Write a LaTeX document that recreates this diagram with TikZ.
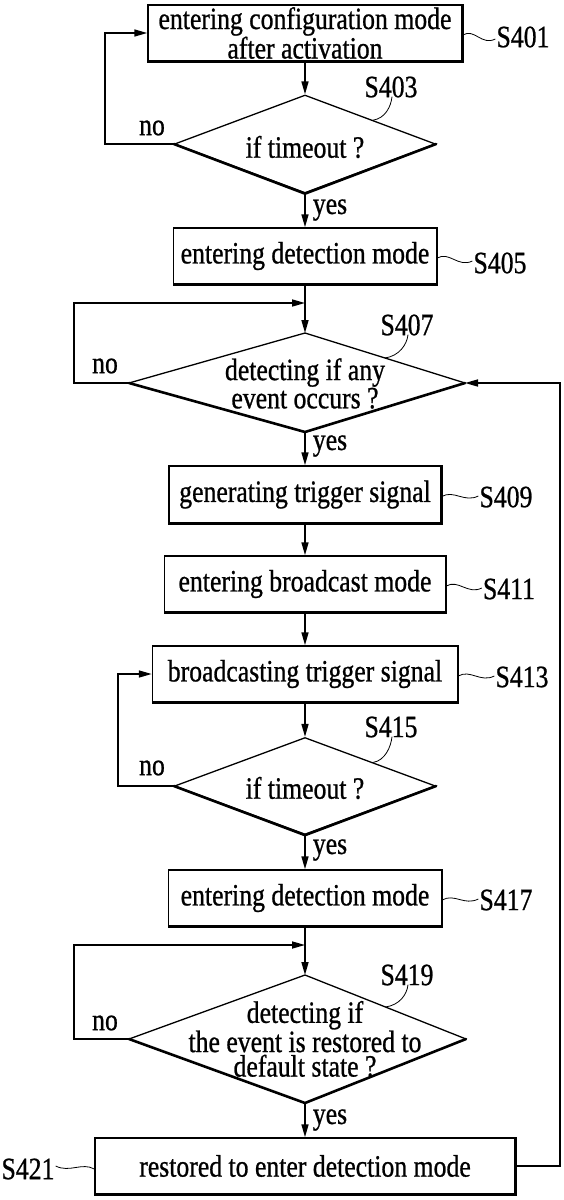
\documentclass[tikz,border=0pt]{standalone}
\usepackage{fontspec}
\setmainfont[FakeStretch=0.83,FakeBold=0.8]{Liberation Serif}
\usetikzlibrary{shapes.geometric,arrows.meta,calc}
\begin{document}
\begin{tikzpicture}[x=1pt,y=-1pt,
  every node/.style={font=\fontsize{31}{24.5}\selectfont},
  stepbox/.style={draw,rectangle,line width=1.5pt,inner sep=0pt,align=center},
  decision/.style={draw,diamond,line width=1.3pt,inner sep=0pt},
  light/.style={line width=1.3pt,line join=round},
  heavy/.style={line width=2.6pt,line cap=round,line join=round},
  arr/.style={line width=1.6pt,-{Triangle[length=13pt,width=7pt]}},
  squig/.style={line width=0.8pt},
  txt/.style={inner sep=0pt,align=center}]
\useasboundingbox (0,0) rectangle (564,1200);

% boxes
\node[stepbox,minimum width=314,minimum height=56] (b1) at (305,33) {entering configuration mode\\after activation};
\node[stepbox,minimum width=263,minimum height=56] (b5) at (305,256) {entering detection mode};
\node[stepbox,minimum width=272,minimum height=57] (b9) at (305,494.5) {generating trigger signal};
\node[stepbox,minimum width=281,minimum height=56] (b11) at (305,584) {entering broadcast mode};
\node[stepbox,minimum width=305,minimum height=56] (b13) at (305,674) {broadcasting trigger signal};
\node[stepbox,minimum width=273,minimum height=56] (b17) at (305,898) {entering detection mode};
\node[stepbox,minimum width=420,minimum height=56] (b21) at (305,1166) {restored to enter detection mode};

% symmetric decisions
\node[decision,minimum width=261,minimum height=98] (d3) at (305,144) {};
\node[txt] (t3) at (305,147) {if timeout ?};
\node[decision,minimum width=261,minimum height=97] (d15) at (305,786) {};
\node[txt] (t15) at (305,788) {if timeout ?};

% wide decisions (left half wider than right half)
\coordinate (d7n) at (305,333);
\coordinate (d7s) at (305,432);
\coordinate (d7w) at (129,383);
\coordinate (d7e) at (465,383);
\draw[light] (d7w) -- (d7n) -- (d7e);
\node[txt] (t7) at (305,383.5) {detecting if any\\event occurs ?};

\coordinate (d19n) at (305,975);
\coordinate (d19s) at (305,1103);
\coordinate (d19w) at (129,1039);
\coordinate (d19e) at (466,1039);
\draw[light] (d19w) -- (d19n) -- (d19e);
\node[txt] (t19) at (305,1039) {detecting if\\the event is restored to\\default state ?};

% heavier lower/right edges
\foreach \b in {b1,b5,b9,b11,b13,b17,b21}
  \draw[line width=2.4pt] (\b.north east) -- (\b.south east) -- (\b.south west);
\foreach \d in {d3,d15}
  \draw[heavy] (\d.west) -- (\d.south) -- (\d.east);
\draw[heavy] (d7w) -- (d7s) -- (d7e);
\draw[heavy] (d19w) -- (d19s) -- (d19e);

% step labels
\node[txt] (s401) at (523,37) {S401};
\node[txt] (s403) at (391,87) {S403};
\node[txt] (s405) at (500,263) {S405};
\node[txt] (s407) at (407,325) {S407};
\node[txt] (s409) at (506,497) {S409};
\node[txt] (s411) at (509,589) {S411};
\node[txt] (s413) at (522,677) {S413};
\node[txt] (s415) at (391,727) {S415};
\node[txt] (s417) at (506,900) {S417};
\node[txt] (s419) at (407,975) {S419};
\node[txt] (s421) at (28,1169) {S421};

% yes / no labels
\node[txt] (n3) at (152,128) {no};
\node[txt] (n7) at (105,366) {no};
\node[txt] (n15) at (152,768) {no};
\node[txt] (n19) at (105,1023) {no};
\node[txt] (y3) at (330,210) {yes};
\node[txt] (y7) at (330,446) {yes};
\node[txt] (y15) at (330,850) {yes};
\node[txt] (y19) at (330,1120) {yes};

% squiggles
\draw[squig] ([yshift=-2]b1.east) .. controls +(12,-7) and +(-14,7) .. ([xshift=-1,yshift=-2]s401.west);
\draw[squig] ([yshift=-2]b5.east) .. controls +(12,-7) and +(-14,7) .. ([xshift=-1,yshift=2]s405.west);
\draw[squig] ([yshift=-2]b9.east) .. controls +(12,-7) and +(-14,7) .. ([xshift=-1,yshift=1]s409.west);
\draw[squig] ([yshift=-2]b11.east) .. controls +(12,-7) and +(-14,7) .. ([xshift=-1,yshift=1]s411.west);
\draw[squig] ([yshift=-2]b13.east) .. controls +(12,-7) and +(-14,7) .. ([xshift=-1,yshift=1]s413.west);
\draw[squig] ([yshift=-2]b17.east) .. controls +(12,-7) and +(-14,7) .. ([xshift=-1,yshift=1]s417.west);
\draw[squig] ([xshift=1,yshift=3]s421.east) .. controls +(14,7) and +(-12,-7) .. ([yshift=-3]b21.west);
\draw[squig] ($(d3.north)!0.52!(d3.east)$) .. controls +(12,-2) and +(-1,10) .. ([xshift=1,yshift=1]s403.south);
\draw[squig] ($(d7n)!0.5!(d7e)$) .. controls +(14,-2) and +(-1,10) .. ([xshift=1,yshift=1]s407.south);
\draw[squig] ($(d15.north)!0.52!(d15.east)$) .. controls +(12,-2) and +(-1,10) .. ([xshift=1,yshift=1]s415.south);
\draw[squig] ($(d19n)!0.5!(d19e)$) .. controls +(14,-2) and +(-1,10) .. ([xshift=1,yshift=1]s419.south);

% main flow
\draw[arr] (b1) -- (d3);
\draw[arr] (d3) -- (b5);
\draw[arr] (b5) -- (d7n);
\draw[arr] (d7s) -- (b9);
\draw[arr] (b9) -- (b11);
\draw[arr] (b11) -- (b13);
\draw[arr] (b13) -- (d15);
\draw[arr] (d15) -- (b17);
\draw[arr] (b17) -- (d19n);
\draw[arr] (d19s) -- (b21);

% loops
\coordinate (j7) at (305,303);
\coordinate (j19) at (305,945);
\draw[arr] (d3.west) -- ++(-69,0) |- (b1.west);
\draw[arr] (d7w) -- ++(-55,0) |- (j7);
\draw[arr] (d15.west) -- ++(-56,0) |- (b13.west);
\draw[arr] (d19w) -- ++(-55,0) |- (j19);
\draw[arr] (b21.east) -- ++(44,0) |- (d7e);
\end{tikzpicture}
\end{document}
